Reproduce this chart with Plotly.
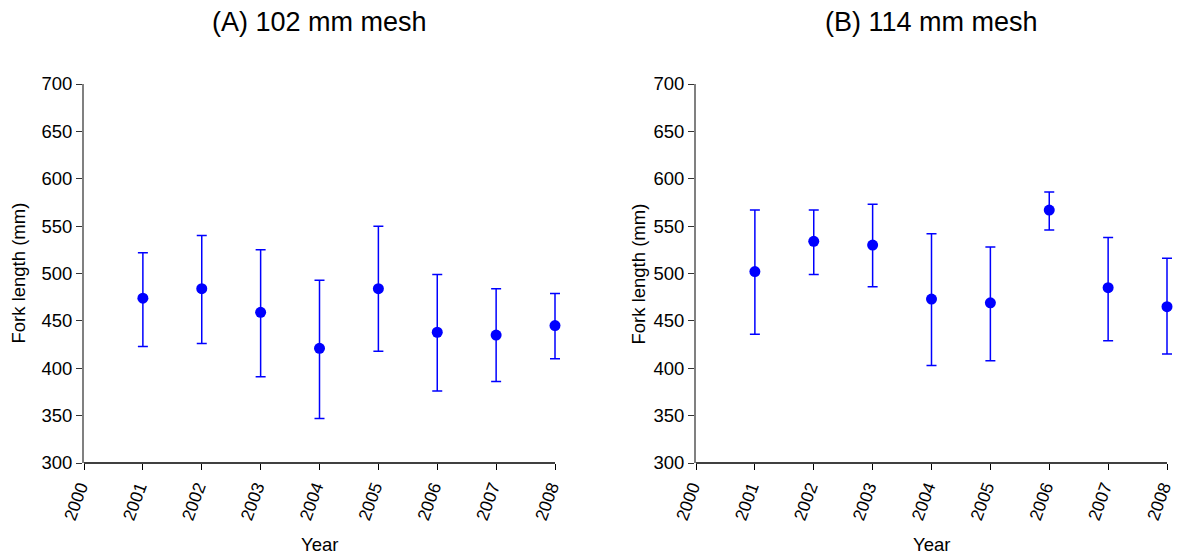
import plotly.graph_objects as go

years = [2001, 2002, 2003, 2004, 2005, 2006, 2007, 2008]
tick_years = [2000, 2001, 2002, 2003, 2004, 2005, 2006, 2007, 2008]

# (A) 102 mm mesh
a_mean = [474, 484, 459, 421, 484, 438, 435, 445]
a_upper = [522, 540, 525, 493, 550, 499, 484, 479]
a_lower = [423, 426, 391, 347, 418, 376, 386, 410]

# (B) 114 mm mesh
b_mean = [502, 534, 530, 473, 469, 567, 485, 465]
b_upper = [567, 567, 573, 542, 528, 586, 538, 516]
b_lower = [436, 499, 486, 403, 408, 546, 429, 415]

titles = ["(A) 102 mm mesh", "(B) 114 mm mesh"]

BLUE = "#0000FF"
FONT = "Liberation Sans, Arial, sans-serif"
TS = 18.5
XTS = 17.5

fig = go.Figure()

for i, (m, u, l) in enumerate([(a_mean, a_upper, a_lower), (b_mean, b_upper, b_lower)]):
    suffix = "" if i == 0 else "2"
    fig.add_trace(go.Scatter(
        x=years, y=m, mode="markers",
        marker=dict(color=BLUE, size=11, symbol="circle"),
        error_y=dict(type="data", symmetric=False,
                     array=[uu - mm for uu, mm in zip(u, m)],
                     arrayminus=[mm - ll for ll, mm in zip(l, m)],
                     color=BLUE, thickness=1.5, width=5),
        xaxis="x" + suffix, yaxis="y" + suffix, showlegend=False,
        cliponaxis=False,
    ))

W, H = 1177, 558
EXT = 0.12  # small headroom past 2008 so the last error-bar caps are not clipped
pxyear = (555 - 84) / 8.0
xdoms = [[84 / W, (555 + EXT * pxyear) / W], [696 / W, (1167 + EXT * pxyear) / W]]
ydom = [1 - 463 / H, 1 - 84 / H]

axis_common_x = dict(range=[tick_years[0], tick_years[-1] + EXT], tickvals=tick_years,
                     ticktext=[str(t) for t in tick_years],
                     tickangle=-70, ticks="outside", ticklen=6, tickcolor="#000000",
                     showline=False, showgrid=False, ticklabeloverflow="allow",
                     ticklabelshift=-4,
                     zeroline=False, tickfont=dict(size=XTS, color="#000000", family=FONT),
                     fixedrange=True, automargin=False)
axis_common_y = dict(range=[300, 700], tickvals=list(range(300, 701, 50)),
                     ticks="outside", ticklen=6, tickcolor="#333333",
                     showline=True, linecolor="#808080", linewidth=2, showgrid=False,
                     zeroline=False, tickfont=dict(size=TS, color="#000000", family=FONT),
                     fixedrange=True, automargin=False, ticklabeloverflow="allow")

fig.update_layout(
    width=W, height=H,
    margin=dict(l=0, r=0, t=0, b=0, pad=0, autoexpand=False),
    paper_bgcolor="white", plot_bgcolor="white",
    xaxis=dict(domain=xdoms[0], anchor="y", **axis_common_x),
    yaxis=dict(domain=ydom, anchor="x", **axis_common_y),
    xaxis2=dict(domain=xdoms[1], anchor="y2", **axis_common_x),
    yaxis2=dict(domain=ydom, anchor="x2", **axis_common_y),
    font=dict(family=FONT, color="#000000"),
)

# x-axis baseline from first to last tick
for sfx in ["", "2"]:
    fig.add_shape(type="line", xref="x" + sfx, yref="y" + sfx + " domain",
                  x0=tick_years[0], x1=tick_years[-1], y0=0, y1=0,
                  line=dict(color="#000000", width=1.5), layer="above")

annotations = []
for i in range(2):
    cx = (84 + 555) / 2 / W if i == 0 else (696 + 1167) / 2 / W
    annotations.append(dict(text=titles[i], x=cx, y=1 - 22 / H, xref="paper", yref="paper",
                            showarrow=False, font=dict(size=27, family=FONT),
                            xanchor="center", yanchor="middle"))
    annotations.append(dict(text="Year", x=cx, y=1 - 544 / H, xref="paper", yref="paper",
                            showarrow=False, font=dict(size=TS, family=FONT),
                            xanchor="center", yanchor="middle"))
    ax_x = (18 if i == 0 else 638) / W
    annotations.append(dict(text="Fork length (mm)", x=ax_x, y=(ydom[0] + ydom[1]) / 2,
                            xref="paper", yref="paper", textangle=-90, showarrow=False,
                            font=dict(size=TS, family=FONT), xanchor="center", yanchor="middle"))
fig.update_layout(annotations=annotations)

fig.write_html("out.html")
